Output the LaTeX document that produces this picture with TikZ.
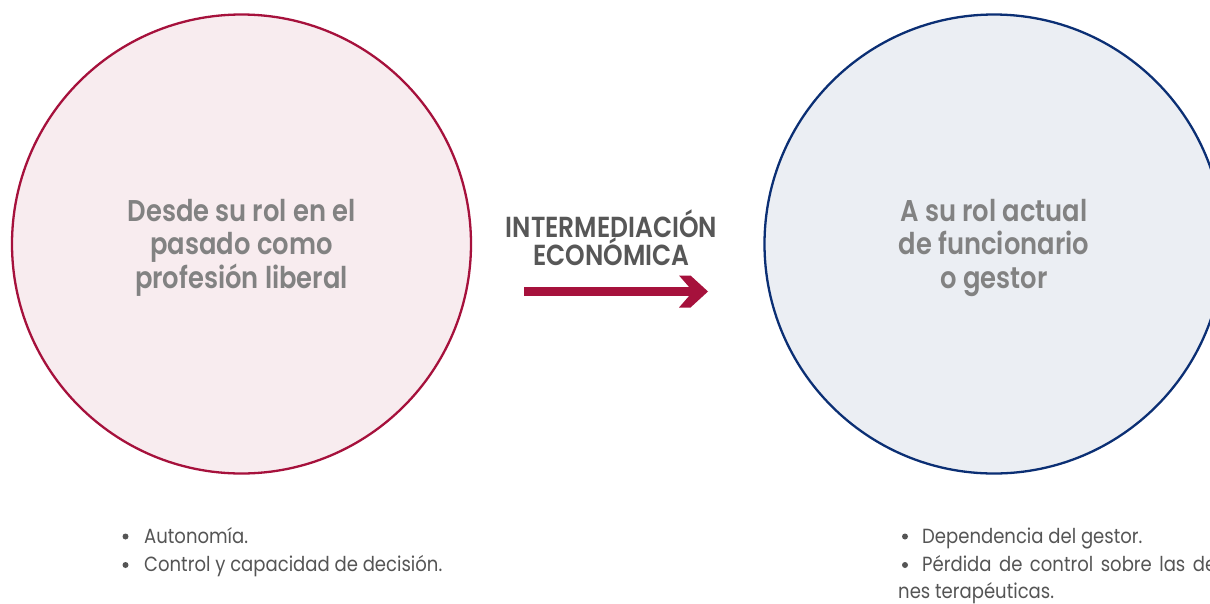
\documentclass[tikz,border=0pt]{standalone}
\usepackage{fontspec}
\setmainfont{Poppins}
\newfontfamily\titlefont[FakeStretch=0.86]{Poppins SemiBold}
\newfontfamily\bodyfont[FakeStretch=0.88]{Poppins}
\definecolor{crimson}{HTML}{A6113C}
\definecolor{pinkfill}{HTML}{F8ECEF}
\definecolor{navy}{HTML}{0B2F74}
\definecolor{bluefill}{HTML}{EBEEF3}
\definecolor{titlegray}{HTML}{828282}
\definecolor{darkgray}{HTML}{575757}
\definecolor{bodygray}{HTML}{555555}
\begin{document}
\begin{tikzpicture}[x=1pt,y=-1pt,
  circtitle/.style={inner sep=0pt,anchor=base,text=titlegray,font=\titlefont\fontsize{30}{32}\selectfont},
  midtitle/.style={inner sep=0pt,anchor=base,text=darkgray,font=\titlefont\fontsize{29}{31}\selectfont},
  bodytext/.style={inner sep=0pt,anchor=base west,text=bodygray,font=\bodyfont\fontsize{20.5}{23}\selectfont},
  bulletdot/.style={circle,fill=bodygray,inner sep=0pt,minimum size=6pt}]
\clip (0,0) rectangle (1210,603);
\fill[white] (0,0) rectangle (1210,603);
% circles
\node[circle,draw=crimson,fill=pinkfill,line width=2.3pt,minimum size=459pt,inner sep=0pt] (left) at (241.5,244) {};
\node[circle,draw=navy,fill=bluefill,line width=2.3pt,minimum size=459pt,inner sep=0pt] (right) at (994,244) {};
% left title
\node[circtitle] (l1) at (241.5,221) {Desde su rol en el};
\node[circtitle] (l2) at (241.5,254.5) {pasado como};
\node[circtitle] (l3) at (241.5,288) {profesión liberal};
% right title
\node[circtitle] (r1) at (994,221) {A su rol actual};
\node[circtitle] (r2) at (994,254.5) {de funcionario};
\node[circtitle] (r3) at (994,288) {o gestor};
% middle
\node[midtitle] (m1) at (611.5,237) {INTERMEDIACIÓN};
\node[midtitle] (m2) at (611.5,265) {ECONÓMICA};
% arrow
\coordinate (as) at (524,291.5);
\coordinate (ae) at (708,291.5);
\fill[crimson] (as) ++(0,-4.5) rectangle (695,296);
\fill[crimson] (679,275.5) -- (690.5,275.5) -- (ae) -- (690.5,307.5) -- (679,307.5) -- (693,291.5) -- cycle;
% left bullets
\node[bulletdot] (lb1) at (125.5,536.5) {};
\node[bodytext] (lt1) at (144,543) {Autonomía.};
\node[bulletdot] (lb2) at (125.5,565) {};
\node[bodytext] (lt2) at (144,571.5) {Control y capacidad de decisión.};
% right bullets
\node[bulletdot] (rb1) at (905,536.5) {};
\node[bodytext] (rt1) at (922,543) {Dependencia del gestor.};
\node[bulletdot] (rb2) at (905,565) {};
\node[bodytext] (rt2) at (922,571.5) {\spaceskip=7.5pt Pérdida de control sobre las decisio-};
\node[bodytext] (rt3) at (898,598) {nes terapéuticas.};
\end{tikzpicture}
\end{document}
